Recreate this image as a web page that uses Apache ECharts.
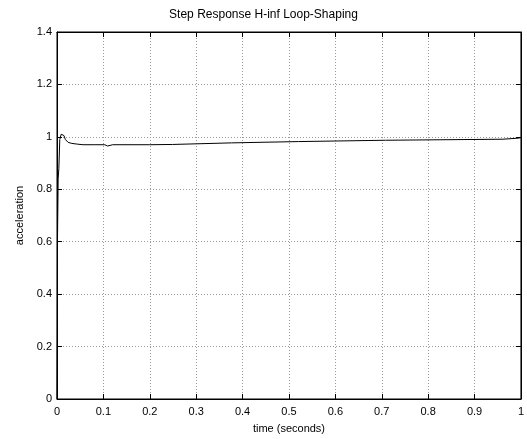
<!DOCTYPE html>
<html>
<head>
<meta charset="utf-8">
<script src="https://cdn.jsdelivr.net/npm/echarts@6/dist/echarts.min.js"></script>
<style>
html,body{margin:0;padding:0;background:#fff;}
#chart{width:527px;height:439px;}
</style>
</head>
<body>
<div id="chart"></div>
<script>
// step response
var timeVals = [0, 0.0004, 0.0006, 0.001, 0.0025, 0.004, 0.006, 0.009, 0.012, 0.015, 0.018, 0.024, 0.032, 0.045, 0.056, 0.08, 0.103, 0.109, 0.113, 0.12, 0.2, 0.249, 0.252, 0.376, 0.379, 0.521, 0.524, 0.708, 0.711, 0.961, 0.964, 0.994, 1];
var accelVals = [0, 0.2, 0.22, 0.6, 0.84, 0.88, 0.99, 1.01, 1.016, 1.005, 0.99, 0.979, 0.975, 0.972, 0.970, 0.970, 0.970, 0.965, 0.967, 0.970, 0.970, 0.971, 0.976, 0.977, 0.981, 0.982, 0.986, 0.987, 0.990, 0.991, 0.994, 0.995, 0.997];
var titleText = 'Step Response H-inf Loop-Shaping';
var xName = 'time (seconds)';
var yName = 'acceleration';

var pts = [];
for (var i = 0; i < timeVals.length; i++) {
    pts.push([timeVals[i], accelVals[i]]);
}

var font = 'Liberation Sans, Arial, sans-serif';
var gridDots = {show: true, lineStyle: {color: '#9a9a9a', type: [1, 2], width: 1}};

var option = {
    animation: false,
    title: {
        text: titleText,
        left: 'center',
        top: 4,
        textStyle: {fontFamily: font, fontSize: 12, fontWeight: 'normal', color: '#000'}
    },
    grid: {
        left: 57, right: 4, top: 32, bottom: 39,
        show: true, borderColor: '#000', borderWidth: 1
    },
    xAxis: [{
        type: 'value', min: 0, max: 1, interval: 0.1,
        name: xName, nameLocation: 'middle', nameGap: 24,
        nameTextStyle: {fontFamily: font, fontSize: 11, color: '#000'},
        axisLine: {show: true, onZero: false, lineStyle: {color: '#000'}},
        axisTick: {show: true, inside: true, length: 5, lineStyle: {color: '#000'}},
        axisLabel: {fontFamily: font, fontSize: 11, color: '#000', margin: 7},
        splitLine: gridDots
    }, {
        type: 'value', min: 0, max: 1, interval: 0.1, position: 'top',
        axisLine: {show: true, onZero: false, lineStyle: {color: '#000'}},
        axisTick: {show: true, inside: true, length: 5, lineStyle: {color: '#000'}},
        axisLabel: {show: false},
        splitLine: {show: false}
    }],
    yAxis: [{
        type: 'value', min: 0, max: 1.4, interval: 0.2,
        name: yName, nameLocation: 'middle', nameGap: 32,
        nameTextStyle: {fontFamily: font, fontSize: 11, color: '#000'},
        axisLine: {show: true, onZero: false, lineStyle: {color: '#000'}},
        axisTick: {show: true, inside: true, length: 5, lineStyle: {color: '#000'}},
        axisLabel: {fontFamily: font, fontSize: 11, color: '#000', margin: 5},
        splitLine: gridDots
    }, {
        type: 'value', min: 0, max: 1.4, interval: 0.2, position: 'right',
        axisLine: {show: true, onZero: false, lineStyle: {color: '#000'}},
        axisTick: {show: true, inside: true, length: 5, lineStyle: {color: '#000'}},
        axisLabel: {show: false},
        splitLine: {show: false}
    }],
    series: [{
        type: 'line',
        data: pts,
        showSymbol: false,
        lineStyle: {color: '#000', width: 1},
        z: 5
    }]
};

var myChart = echarts.init(document.getElementById('chart'));
myChart.setOption(option);
</script>
</body>
</html>
